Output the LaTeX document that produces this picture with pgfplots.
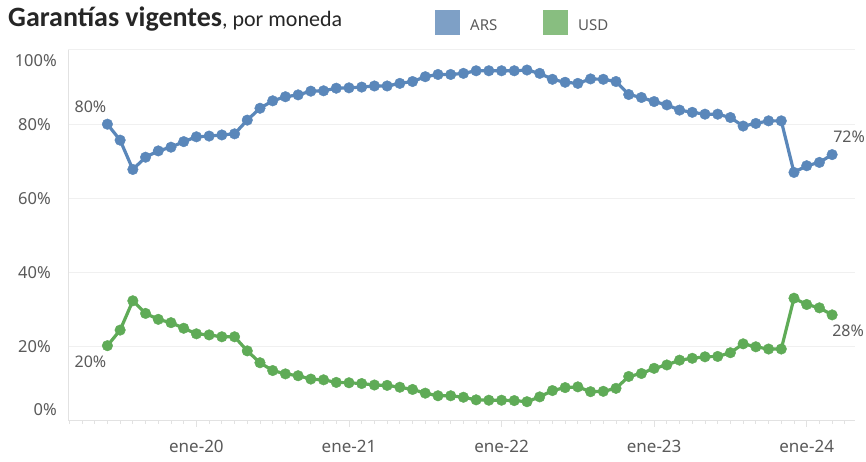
\documentclass[border=0pt]{standalone}
\usepackage{pgfplots}
\pgfplotsset{compat=1.18}
\usepackage{pgfplotstable}
\usepackage{fontspec}
\setmainfont{Noto Sans}
\newfontfamily\titlefont{Carlito}
\definecolor{arsline}{HTML}{5A87BA}
\definecolor{usdline}{HTML}{5FAB57}
\definecolor{arsleg}{HTML}{7EA0C6}
\definecolor{usdleg}{HTML}{88BE80}
\definecolor{gridc}{HTML}{F0F0F0}
\definecolor{axc}{HTML}{E2E2E2}
\definecolor{tickc}{HTML}{5A5A5A}

\pgfplotstableread{
idx ars usd
0 80.0 20.3
1 75.7 24.5
2 67.8 32.4
3 71.1 29.0
4 72.8 27.4
5 73.8 26.5
6 75.3 25.0
7 76.6 23.5
8 76.8 23.2
9 77.1 22.7
10 77.4 22.7
11 81.1 18.9
12 84.3 15.7
13 86.3 13.6
14 87.4 12.7
15 87.9 12.2
16 88.9 11.3
17 89.0 11.1
18 89.7 10.4
19 89.8 10.3
20 90.0 10.1
21 90.3 9.7
22 90.3 9.6
23 91.0 9.1
24 91.5 8.5
25 92.8 7.5
26 93.4 6.8
27 93.4 6.8
28 93.7 6.4
29 94.4 5.7
30 94.4 5.6
31 94.4 5.6
32 94.4 5.5
33 94.6 5.2
34 93.7 6.5
35 92.1 8.2
36 91.3 9.0
37 91.0 9.2
38 92.2 7.9
39 92.1 8.0
40 91.5 8.8
41 88.0 12.0
42 87.2 12.8
43 86.1 14.2
44 85.2 15.1
45 83.8 16.4
46 83.2 16.9
47 82.7 17.3
48 82.7 17.4
49 81.8 18.4
50 79.5 20.8
51 80.2 20.0
52 80.9 19.4
53 80.9 19.4
54 67.0 33.1
55 68.8 31.4
56 69.7 30.5
57 71.8 28.6
}\datatable

\begin{document}
\begin{tikzpicture}[x=1pt,y=1pt]
\useasboundingbox (0,0) rectangle (866,462);
\fill[white] (0,0) rectangle (866,462);
% title
\node[anchor=base west, inner sep=0pt, text=black!85] at (8,435) {\titlefont\fontsize{28}{32}\selectfont\bfseries Garantías vigentes\mdseries\fontsize{22}{26}\selectfont, por moneda};
% legend
\fill[arsleg] (435,427) rectangle (460,452);
\node[anchor=west, inner sep=0pt, text=tickc] at (470,437) {\fontsize{15}{17}\selectfont ARS};
\fill[usdleg] (543,427) rectangle (568,452);
\node[anchor=west, inner sep=0pt, text=tickc] at (578,437) {\fontsize{15}{17}\selectfont USD};
\begin{axis}[
  at={(68pt,41pt)}, anchor=south west,
  scale only axis, width=787pt, height=371pt,
  xmin=-3.1, xmax=58.8, ymin=0, ymax=100,
  clip=false,
  axis x line*=bottom, axis y line*=left,
  x axis line style={-, draw=axc, line width=1pt},
  y axis line style={-, draw=axc, line width=1pt},
  xtick={7,19,31,43,55},
  xticklabels={ene-20,ene-21,ene-22,ene-23,ene-24},
  minor xtick={-3,...,58},
  tick align=outside,
  major tick length=6pt, minor tick length=3pt,
  xtick style={draw=axc, line width=0.8pt},
  minor tick style={draw=axc, line width=0.8pt},
  xticklabel style={font=\fontsize{17}{19}\selectfont, text=tickc, inner sep=0pt, anchor=north, yshift=-13pt},
  ytick={0,20,40,60,80,100},
  yticklabels={,20\%,40\%,60\%,80\%,},
  ytick style={draw=none},
  yticklabel style={font=\fontsize{16.5}{18}\selectfont, text=tickc, inner sep=0pt, anchor=east, xshift=-11pt},
  ymajorgrids, grid style={draw=gridc, line width=1pt},
]
\addplot[arsline, line width=3.2pt, mark=*, mark size=5.3pt, mark options={draw=arsline, fill=arsline, line width=0.4pt}] table[x=idx, y=ars] {\datatable};
\addplot[usdline, line width=3.2pt, mark=*, mark size=5.3pt, mark options={draw=usdline, fill=usdline, line width=0.4pt}] table[x=idx, y=usd] {\datatable};
\node[anchor=east, inner sep=0pt, text=tickc, font=\fontsize{16.5}{18}\selectfont, xshift=-11pt, yshift=-11pt] at (rel axis cs:0,1) {100\%};
\node[anchor=east, inner sep=0pt, text=tickc, font=\fontsize{16.5}{18}\selectfont, xshift=-11pt, yshift=11pt] at (rel axis cs:0,0) {0\%};
\node[text=tickc, font=\fontsize{16}{18}\selectfont, inner sep=0pt] at (axis cs:0,80) [xshift=-17pt, yshift=17pt] {80\%};
\node[text=tickc, font=\fontsize{16}{18}\selectfont, inner sep=0pt] at (axis cs:0,20.3) [xshift=-17pt, yshift=-16pt] {20\%};
\node[text=tickc, font=\fontsize{16}{18}\selectfont, inner sep=0pt] at (axis cs:57,71.8) [xshift=17pt, yshift=18pt] {72\%};
\node[text=tickc, font=\fontsize{16}{18}\selectfont, inner sep=0pt] at (axis cs:57,28.6) [xshift=16pt, yshift=-16pt] {28\%};
\end{axis}
\end{tikzpicture}
\end{document}
